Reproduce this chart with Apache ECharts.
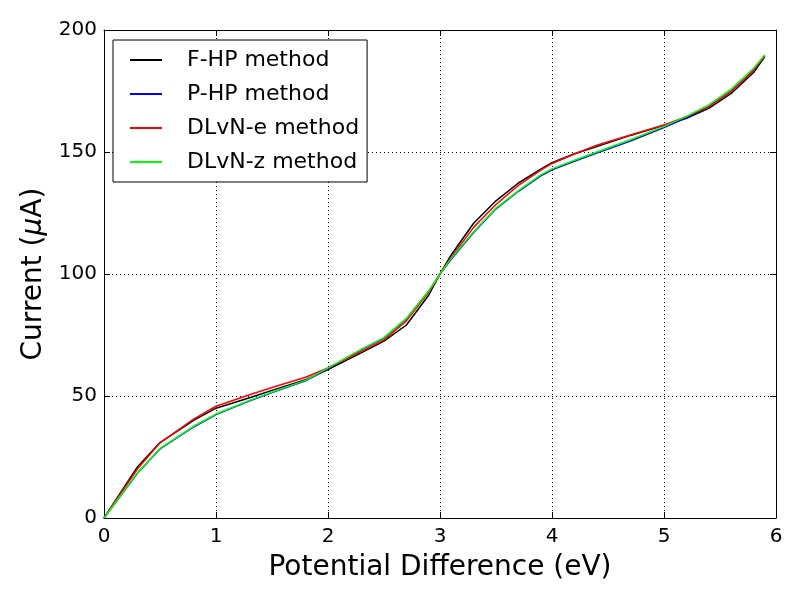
<!DOCTYPE html>
<html>
<head>
<meta charset="utf-8">
<script src="https://cdn.jsdelivr.net/npm/echarts@6/dist/echarts.min.js"></script>
<style>
html,body{margin:0;padding:0;background:#fff;}
#chart{width:800px;height:600px;}
</style>
</head>
<body>
<div id="chart"></div>
<script>
// Potential difference (eV)
const potential = [0, 0.3, 0.5, 0.8, 1.0, 1.3, 1.5, 1.8, 2.0, 2.3, 2.5, 2.7, 2.9, 3.0, 3.1, 3.3, 3.5, 3.7, 3.9, 4.0, 4.2, 4.4, 4.7, 5.0, 5.2, 5.4, 5.6, 5.8, 5.9];
// Current (uA)
const fhp   = [0, 21.0, 30.9, 40.0, 45.0, 49.3, 52.3, 56.7, 60.8, 67.8, 72.5, 79.1, 91.4, 100, 107.8, 120.8, 130.0, 137.3, 143.0, 145.6, 149.3, 152.2, 156.8, 161.0, 163.8, 167.9, 174.0, 182.6, 189.1];
const php   = [0, 18.4, 28.3, 37.3, 42.4, 48.0, 51.4, 56.2, 61.1, 69.0, 73.7, 81.6, 93.0, 100, 106.0, 117.0, 126.7, 133.9, 140.2, 142.7, 146.2, 149.6, 154.5, 160.0, 164.0, 168.6, 175.0, 183.4, 189.4];
const dlvne = [0, 20.2, 30.8, 40.5, 45.8, 50.5, 53.5, 57.7, 61.5, 68.3, 73.0, 80.8, 92.6, 100, 106.8, 119.1, 128.5, 136.3, 142.6, 145.3, 149.2, 152.8, 157.0, 161.1, 164.5, 168.6, 174.8, 183.5, 189.5];
const dlvnz = [0, 18.6, 28.5, 37.6, 42.6, 48.2, 51.6, 56.4, 61.5, 69.2, 73.9, 81.8, 93.1, 100, 106.4, 117.3, 127.0, 134.2, 140.6, 143.1, 146.6, 150.0, 155.0, 160.5, 164.6, 169.3, 175.8, 184.3, 189.8];
const seriesNames = ['F-HP method', 'P-HP method', 'DLvN-e method', 'DLvN-z method'];
const seriesColors = ['#000000', '#0000ff', '#ff0000', '#00ff00'];
const seriesValues = [fhp, php, dlvne, dlvnz];

const FONT = 'DejaVu Sans';
const chart = echarts.init(document.getElementById('chart'), null, {renderer: 'canvas'});

const pair = arr => potential.map((x, i) => [x, arr[i]]);

const axisCommon = {
  axisLine: {show: true, onZero: false, lineStyle: {color: '#000', width: 1}},
  axisTick: {show: true, inside: true, length: 6, lineStyle: {color: '#000', width: 1}},
};

const option = {
  animation: false,
  backgroundColor: '#fff',
  textStyle: {fontFamily: FONT},
  grid: {left: 104, right: 24, top: 30, bottom: 82, containLabel: false},
  legend: {
    show: true,
    orient: 'vertical',
    left: 113, top: 40,
    padding: [9, 8, 9, 17],
    itemWidth: 32, itemHeight: 2, itemGap: 12,
    backgroundColor: '#fff',
    borderColor: '#000', borderWidth: 1, borderRadius: 0,
    textStyle: {fontFamily: FONT, fontSize: 22, color: '#000'},
    formatter: n => '{t|' + n + '}',
    data: seriesNames.map(n => ({name: n, icon: 'rect'}))
  },
  xAxis: [
    Object.assign({
      type: 'value', min: 0, max: 6, interval: 1, position: 'bottom',
      name: 'Potential Difference (eV)', nameLocation: 'middle', nameGap: 36,
      nameTextStyle: {fontFamily: FONT, fontSize: 28, color: '#000'},
      axisLabel: {fontFamily: FONT, fontSize: 20, color: '#000', margin: 9},
      splitLine: {show: true, lineStyle: {color: '#000', width: 1, type: [1, 3]}}
    }, axisCommon),
    Object.assign({
      type: 'value', min: 0, max: 6, interval: 1, position: 'top',
      axisLabel: {show: false}, splitLine: {show: false}
    }, axisCommon)
  ],
  yAxis: [
    Object.assign({
      type: 'value', min: 0, max: 200, interval: 50, position: 'left',
      name: 'Current ({i|μ}A)', nameLocation: 'middle', nameGap: 49, nameRotate: 90,
      nameTextStyle: {fontFamily: FONT, fontSize: 28, color: '#000',
        rich: {i: {fontFamily: FONT, fontSize: 28, fontStyle: 'italic', color: '#000'}}},
      axisLabel: {fontFamily: FONT, fontSize: 20, color: '#000', margin: 7},
      splitLine: {show: true, lineStyle: {color: '#000', width: 1, type: [1, 3]}}
    }, axisCommon),
    Object.assign({
      type: 'value', min: 0, max: 200, interval: 50, position: 'right',
      axisLabel: {show: false}, splitLine: {show: false}
    }, axisCommon)
  ],
  series: seriesNames.map((n, k) => ({
    name: n, type: 'line', xAxisIndex: 0, yAxisIndex: 0,
    data: pair(seriesValues[k]),
    symbol: 'none', showSymbol: false, smooth: false,
    color: seriesColors[k],
    itemStyle: {color: seriesColors[k]},
    lineStyle: {color: seriesColors[k], width: 1.5},
    z: 2 + k
  }))
};
option.legend.textStyle.rich = {t: {fontFamily: FONT, fontSize: 22, color: '#000', padding: [0, 0, 0, 20]}};
chart.setOption(option);
</script>
</body>
</html>
